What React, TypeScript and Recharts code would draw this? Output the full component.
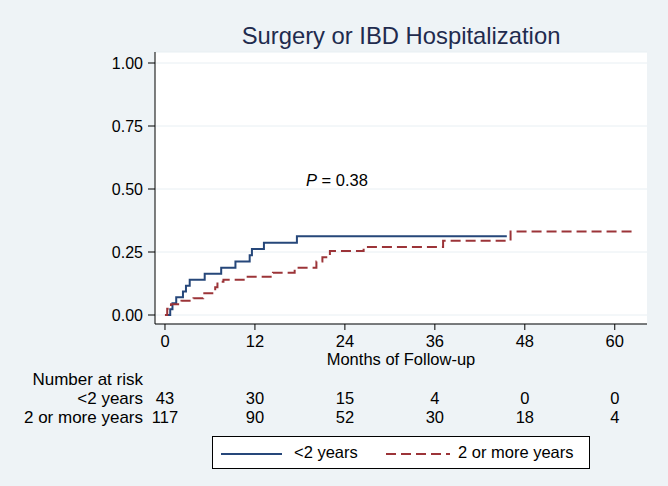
import { LineChart, Line, XAxis, YAxis, CartesianGrid } from 'recharts';

const monthTicks = [0, 12, 24, 36, 48, 60];
const riskTicks = [0, 0.25, 0.5, 0.75, 1];
const atRiskUnder2 = [43, 30, 15, 4, 0, 0];
const atRiskOver2 = [117, 90, 52, 30, 18, 4];

const under2Months = [0, 0.7, 1.0, 1.5, 2.4, 2.8, 3.3, 5.3, 7.5, 9.4, 11.3, 11.6, 13.2, 17.6, 45.6];
const under2Risk = [0, 0.023, 0.047, 0.07, 0.093, 0.116, 0.14, 0.164, 0.188, 0.212, 0.237, 0.262, 0.287, 0.313, 0.313];

const over2Months = [0, 0.3, 0.8, 2.2, 3.8, 5.1, 6.7, 7.0, 7.8, 10.5, 14.4, 17.3, 20.2, 21.0, 22.0, 26.5, 37.1, 46.1, 62.7];
const over2Risk = [0, 0.025, 0.043, 0.057, 0.066, 0.086, 0.11, 0.132, 0.14, 0.152, 0.168, 0.188, 0.212, 0.229, 0.254, 0.27, 0.295, 0.331, 0.331];

const under2Data = under2Months.map((t, i) => ({ t, risk: under2Risk[i] }));
const over2Data = over2Months.map((t, i) => ({ t, risk: over2Risk[i] }));

const FONT = '"Liberation Sans", Arial, sans-serif';
const BLUE = '#26477a';
const RED = '#9c3438';

function MonthTick(props: any) {
  const { x, y, payload } = props;
  const i = monthTicks.indexOf(payload.value);
  return (
    <g fontFamily={FONT} fontSize={16.5} fill="#000">
      <text x={x} y={y + 15} textAnchor="middle">{payload.value}</text>
      <text x={x} y={y + 72} textAnchor="middle">{atRiskUnder2[i]}</text>
      <text x={x} y={y + 91} textAnchor="middle">{atRiskOver2[i]}</text>
    </g>
  );
}

export default function App() {
  return (
    <div style={{ position: 'absolute', left: 0, top: 0, width: 668, height: 486, background: '#eef3f6', fontFamily: FONT }}>
      <div style={{ position: 'absolute', left: 155, width: 492, top: 22, textAlign: 'center', fontSize: 23.8, color: '#1f2b4e' }}>
        Surgery or IBD Hospitalization
      </div>
      <LineChart width={668} height={486} margin={{ top: 52, right: 21, left: 0, bottom: 0 }}>
        <CartesianGrid fill="#ffffff" vertical={false} stroke="#e8eff3" />
        <XAxis
          dataKey="t"
          type="number"
          domain={[-1.33, 64.3]}
          ticks={monthTicks}
          allowDataOverflow
          height={162}
          stroke="#000"
          tickSize={6}
          tick={<MonthTick />}
        />
        <YAxis
          type="number"
          domain={[-0.0357, 1.0437]}
          ticks={riskTicks}
          allowDataOverflow
          width={155}
          stroke="#000"
          tickSize={7}
          tickMargin={5}
          tick={{ fill: '#000', fontSize: 16, fontFamily: FONT }}
          tickFormatter={(v: number) => v.toFixed(2)}
        />
        <Line
          data={under2Data}
          dataKey="risk"
          type="stepAfter"
          stroke={BLUE}
          strokeWidth={2}
          dot={false}
          isAnimationActive={false}
        />
        <Line
          data={over2Data}
          dataKey="risk"
          type="stepAfter"
          stroke={RED}
          strokeWidth={2}
          strokeDasharray="10 5"
          dot={false}
          isAnimationActive={false}
        />
      </LineChart>
      <div style={{ position: 'absolute', left: 306, top: 171, fontSize: 16.5 }}>
        <i>P</i> = 0.38
      </div>
      <div style={{ position: 'absolute', left: 155, width: 492, top: 350, textAlign: 'center', fontSize: 16.5 }}>
        Months of Follow-up
      </div>
      <div style={{ position: 'absolute', right: 525, top: 370, textAlign: 'right', fontSize: 17, lineHeight: '19px' }}>
        <div>Number at risk</div>
        <div>&lt;2 years</div>
        <div>2 or more years</div>
      </div>
      <div style={{ position: 'absolute', left: 212, top: 436, width: 376, height: 31, background: '#fff', border: '1px solid #000', fontSize: 16.5 }}>
        <svg width={376} height={31} style={{ position: 'absolute', left: 0, top: 0 }}>
          <line x1={8} x2={69} y1={17} y2={17} stroke={BLUE} strokeWidth={2} />
          <line x1={173} x2={237} y1={17} y2={17} stroke={RED} strokeWidth={2} strokeDasharray="10 5" />
        </svg>
        <div style={{ position: 'absolute', left: 81, top: 6 }}>&lt;2 years</div>
        <div style={{ position: 'absolute', left: 245, top: 6 }}>2 or more years</div>
      </div>
    </div>
  );
}
